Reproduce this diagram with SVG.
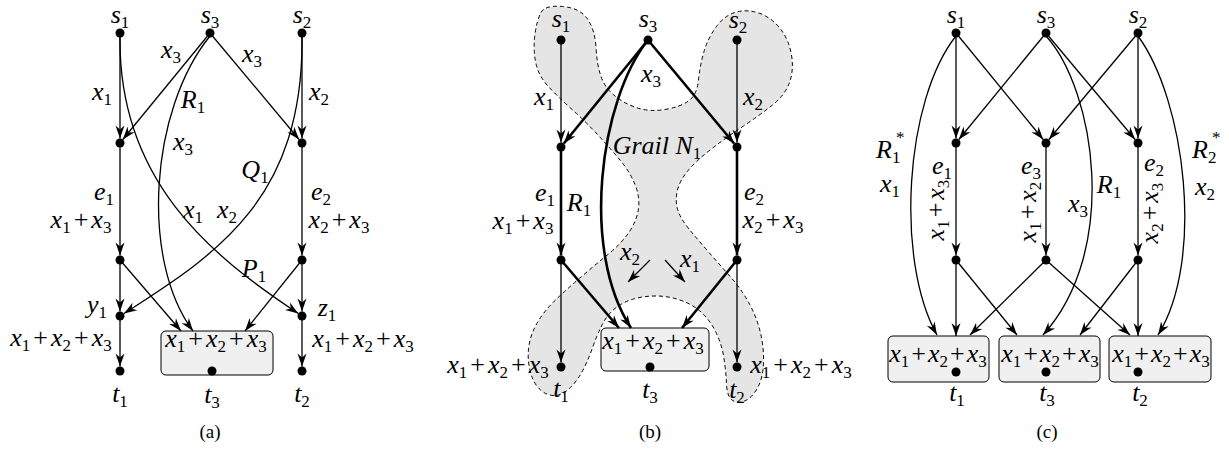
<svg xmlns="http://www.w3.org/2000/svg" width="1229" height="450" viewBox="0 0 1229 450">
<style>
.m{font-style:italic;font-size:26px;fill:#000}
.s{font-style:normal;font-size:17px}
.u{font-style:normal}
.cap{font-size:19px;fill:#000}
.e{fill:none;stroke:#000;stroke-width:1.3;marker-end:url(#a)}
.t{stroke-width:2.6}
.box{fill:#f0f0f0;stroke:#000;stroke-width:1}
.blob{fill:#e5e5e5;stroke:#000;stroke-width:1;stroke-dasharray:4 3}
.d{fill:#000}
</style>
<defs>
<marker id="a" markerUnits="userSpaceOnUse" markerWidth="15" markerHeight="10" viewBox="-14 -5 15 10" refX="0" refY="0" orient="auto"><path d="M0,0 L-13,-4.5 L-9,0 L-13,4.5 Z" fill="#000"/></marker>
</defs>
<rect width="1229" height="450" fill="#fff"/>

<!-- Grail blob (b) -->
<path id="grail" class="blob" d="M541,12.5 Q545,5 562.5,6.5 Q580,8 587.5,19 Q595,30 596,47.5 Q597,65 601,76.5 Q605,88 615,96 Q625,104 637.5,108 Q650,112 665,109.5 Q680,107 688.5,101 Q697,95 698.5,80 Q700,65 704,51.5 Q708,38 716.5,26.5 Q725,15 736.5,12 Q748,9 760,13.5 Q772,18 780.5,29 Q789,40 791.5,55 Q794,70 789.5,82.5 Q785,95 772.5,105 Q760,115 743.5,126 Q727,137 712,148.5 Q697,160 688.5,170 Q680,180 677.5,190 Q675,200 677.5,209 Q680,218 689,229 Q698,240 709,252.5 Q720,265 731,277.5 Q742,290 749.5,304 Q757,318 760.5,333 Q764,348 763.5,363 Q763,378 757.5,388 Q752,398 744.5,401 Q737,404 732,400 Q727,396 726.5,384 Q726,372 724,358.5 Q722,345 716,332.5 Q710,320 701,312 Q692,304 680,300 Q668,296 656,296 Q644,296 633.5,299 Q623,302 615,308.5 Q607,315 602,325 Q597,335 593,346.5 Q589,358 583.5,369 Q578,380 570.5,387.5 Q563,395 555,395.5 Q547,396 540,389.5 Q533,383 530,370.5 Q527,358 529,345.5 Q531,333 538,321.5 Q545,310 556,299.5 Q567,289 581,277 Q595,265 608.5,254 Q622,243 629.5,231.5 Q637,220 638.5,208.5 Q640,197 635,184.5 Q630,172 620,160 Q610,148 597.5,134.5 Q585,121 571,108.5 Q557,96 547.5,85.5 Q538,75 535.5,61.5 Q533,48 535,34 Q537,20 541,12.5 Z"/>

<!-- boxes -->
<g id="a-t3box"><rect class="box" x="161" y="331" width="112" height="44" rx="5"/></g>
<g id="b-t3box"><rect class="box" x="601" y="328" width="108" height="43" rx="5"/></g>
<g id="c-t1box"><rect class="box" x="888" y="336" width="101" height="46" rx="5"/></g>
<g id="c-t3box"><rect class="box" x="999" y="336" width="101" height="46" rx="5"/></g>
<g id="c-t2box"><rect class="box" x="1109" y="336" width="102" height="46" rx="5"/></g>

<g id="connectors">
<!-- (a) -->
<path class="e" d="M120,33 L120,138.5"/>
<path class="e" d="M210,33 L122.8,139.5"/>
<path class="e" d="M210,33 L299.1,139.5"/>
<path class="e" d="M302,33 L302,138.5"/>
<path class="e" d="M120,143 L120,255.5"/>
<path class="e" d="M302,143 L302,255.5"/>
<path class="e" d="M120,260 L120,311.5"/>
<path class="e" d="M302,260 L302,311.5"/>
<path class="e" d="M120,316 L120,366.5"/>
<path class="e" d="M302,316 L302,366.5"/>
<path class="e" d="M120,260 L181,331"/>
<path class="e" d="M302,260 L245,331"/>
<path class="e" d="M120,36 C118,180 210,255 298.3,313.5"/>
<path class="e" d="M302,36 C304,200 215,255 124,313.5"/>
<path class="e" d="M210,36 C150,110 140,260 193,331"/>
<!-- (b) -->
<path class="e" d="M561,40 L561,142.5"/>
<path class="e" d="M737,40 L737,142.5"/>
<path class="e t" d="M648,40 L563.8,143.5"/>
<path class="e t" d="M648,40 L734.1,143.5"/>
<path class="e t" d="M561,147 L561,255.5"/>
<path class="e t" d="M737,147 L737,255.5"/>
<path class="e" d="M561,260 L561,362.5"/>
<path class="e" d="M737,260 L737,362.5"/>
<path class="e t" d="M561,260 L619,328"/>
<path class="e t" d="M737,260 L682,328"/>
<path class="e t" d="M648,40 C600,100 580,250 631,328"/>
<path class="e" d="M650,260 L628,282"/>
<path class="e" d="M665,260 L685,282"/>
<!-- (c) -->
<path class="e" d="M956,33 L956,138.5"/>
<path class="e" d="M956,33 L1043.2,139.5"/>
<path class="e" d="M1046,33 L958.8,139.5"/>
<path class="e" d="M1046,33 L1135.1,139.5"/>
<path class="e" d="M1138,33 L1048.9,139.5"/>
<path class="e" d="M1138,33 L1138,138.5"/>
<path class="e" d="M956,143 L956,255.5"/>
<path class="e" d="M1046,143 L1046,255.5"/>
<path class="e" d="M1138,143 L1138,255.5"/>
<path class="e" d="M956,260 L956,336"/>
<path class="e" d="M956,260 L1017,335"/>
<path class="e" d="M1046,260 L970,335"/>
<path class="e" d="M1046,260 L1130,335"/>
<path class="e" d="M1138,260 L1080,335"/>
<path class="e" d="M1138,260 L1138,336"/>
<path class="e" d="M956,36 C905,100 895,260 937,335"/>
<path class="e" d="M1138,36 C1185,100 1205,260 1158,335"/>
<path class="e" d="M1046,36 C1095,90 1120,250 1043,335"/>
</g>

<g font-family="Liberation Serif, serif">
<!-- (a) nodes -->
<g id="a-s1"><circle class="d" cx="120" cy="33" r="4.5"/><text class="m" x="120" y="23" text-anchor="middle">s<tspan class="s" dy="5">1</tspan></text></g>
<g id="a-s3"><circle class="d" cx="210" cy="33" r="4.5"/><text class="m" x="210" y="23" text-anchor="middle">s<tspan class="s" dy="5">3</tspan></text></g>
<g id="a-s2"><circle class="d" cx="302" cy="33" r="4.5"/><text class="m" x="302" y="23" text-anchor="middle">s<tspan class="s" dy="5">2</tspan></text></g>
<g id="a-e1"><circle class="d" cx="120" cy="143" r="4.5"/><text class="m" x="104" y="200" text-anchor="middle">e<tspan class="s" dy="5">1</tspan></text><text class="m" x="81" y="228" text-anchor="middle">x<tspan class="s" dy="5">1</tspan><tspan class="u" dy="-5" dx="3">+</tspan><tspan dx="3">x</tspan><tspan class="s" dy="5">3</tspan></text></g>
<g id="a-e2"><circle class="d" cx="302" cy="143" r="4.5"/><text class="m" x="321" y="200" text-anchor="middle">e<tspan class="s" dy="5">2</tspan></text><text class="m" x="339" y="228" text-anchor="middle">x<tspan class="s" dy="5">2</tspan><tspan class="u" dy="-5" dx="3">+</tspan><tspan dx="3">x</tspan><tspan class="s" dy="5">3</tspan></text></g>
<g id="a-m1"><circle class="d" cx="120" cy="260" r="4.5"/></g>
<g id="a-m2"><circle class="d" cx="302" cy="260" r="4.5"/></g>
<g id="a-y1"><circle class="d" cx="120" cy="316" r="4.5"/><text class="m" x="97" y="313" text-anchor="middle">y<tspan class="s" dy="5">1</tspan></text></g>
<g id="a-z1"><circle class="d" cx="302" cy="316" r="4.5"/><text class="m" x="327" y="316" text-anchor="middle">z<tspan class="s" dy="5">1</tspan></text></g>
<g id="a-t1"><circle class="d" cx="120" cy="371" r="4.5"/><text class="m" x="120" y="402" text-anchor="middle">t<tspan class="s" dy="5">1</tspan></text></g>
<g id="a-t2"><circle class="d" cx="302" cy="371" r="4.5"/><text class="m" x="302" y="402" text-anchor="middle">t<tspan class="s" dy="5">2</tspan></text></g>
<g id="a-t3"><circle class="d" cx="212" cy="371" r="4.5"/><text class="m" x="212" y="403" text-anchor="middle">t<tspan class="s" dy="5">3</tspan></text></g>

<!-- (b) nodes -->
<g id="b-s1"><circle class="d" cx="561" cy="40" r="4.5"/><text class="m" x="561" y="27" text-anchor="middle">s<tspan class="s" dy="5">1</tspan></text></g>
<g id="b-s3"><circle class="d" cx="648" cy="40" r="4.5"/><text class="m" x="648" y="27" text-anchor="middle">s<tspan class="s" dy="5">3</tspan></text></g>
<g id="b-s2"><circle class="d" cx="737" cy="40" r="4.5"/><text class="m" x="738" y="28" text-anchor="middle">s<tspan class="s" dy="5">2</tspan></text></g>
<g id="b-e1"><circle class="d" cx="561" cy="147" r="4.5"/><text class="m" x="545" y="201" text-anchor="middle">e<tspan class="s" dy="5">1</tspan></text><text class="m" x="523" y="229" text-anchor="middle">x<tspan class="s" dy="5">1</tspan><tspan class="u" dy="-5" dx="3">+</tspan><tspan dx="3">x</tspan><tspan class="s" dy="5">3</tspan></text></g>
<g id="b-e2"><circle class="d" cx="737" cy="147" r="4.5"/><text class="m" x="754" y="200" text-anchor="middle">e<tspan class="s" dy="5">2</tspan></text><text class="m" x="773" y="228" text-anchor="middle">x<tspan class="s" dy="5">2</tspan><tspan class="u" dy="-5" dx="3">+</tspan><tspan dx="3">x</tspan><tspan class="s" dy="5">3</tspan></text></g>
<g id="b-m1"><circle class="d" cx="561" cy="260" r="4.5"/></g>
<g id="b-m2"><circle class="d" cx="737" cy="260" r="4.5"/></g>
<g id="b-t1"><circle class="d" cx="561" cy="367" r="4.5"/><text class="m" x="561" y="397" text-anchor="middle">t<tspan class="s" dy="5">1</tspan></text></g>
<g id="b-t2"><circle class="d" cx="737" cy="367" r="4.5"/><text class="m" x="737" y="398" text-anchor="middle">t<tspan class="s" dy="5">2</tspan></text></g>
<g id="b-t3"><circle class="d" cx="650" cy="367" r="4.5"/><text class="m" x="650" y="398" text-anchor="middle">t<tspan class="s" dy="5">3</tspan></text></g>

<!-- (c) nodes -->
<g id="c-s1"><circle class="d" cx="956" cy="33" r="4.5"/><text class="m" x="956" y="23" text-anchor="middle">s<tspan class="s" dy="5">1</tspan></text></g>
<g id="c-s3"><circle class="d" cx="1046" cy="33" r="4.5"/><text class="m" x="1046" y="23" text-anchor="middle">s<tspan class="s" dy="5">3</tspan></text></g>
<g id="c-s2"><circle class="d" cx="1138" cy="33" r="4.5"/><text class="m" x="1138" y="23" text-anchor="middle">s<tspan class="s" dy="5">2</tspan></text></g>
<g id="c-e1"><circle class="d" cx="956" cy="143" r="4.5"/><text class="m" x="942" y="174" text-anchor="middle">e<tspan class="s" dy="5">1</tspan></text><text class="m" transform="translate(944,210) rotate(-90)" text-anchor="middle">x<tspan class="s" dy="5">1</tspan><tspan class="u" dy="-5" dx="3">+</tspan><tspan dx="3">x</tspan><tspan class="s" dy="5">3</tspan></text></g>
<g id="c-e3"><circle class="d" cx="1046" cy="143" r="4.5"/><text class="m" x="1031" y="174" text-anchor="middle">e<tspan class="s" dy="5">3</tspan></text><text class="m" transform="translate(1036,212) rotate(-90)" text-anchor="middle">x<tspan class="s" dy="5">1</tspan><tspan class="u" dy="-5" dx="3">+</tspan><tspan dx="3">x</tspan><tspan class="s" dy="5">2</tspan></text></g>
<g id="c-e2"><circle class="d" cx="1138" cy="143" r="4.5"/><text class="m" x="1154" y="171" text-anchor="middle">e<tspan class="s" dy="5">2</tspan></text><text class="m" transform="translate(1158,213) rotate(-90)" text-anchor="middle">x<tspan class="s" dy="5">2</tspan><tspan class="u" dy="-5" dx="3">+</tspan><tspan dx="3">x</tspan><tspan class="s" dy="5">3</tspan></text></g>
<g id="c-m1"><circle class="d" cx="956" cy="260" r="4.5"/></g>
<g id="c-m3"><circle class="d" cx="1046" cy="260" r="4.5"/></g>
<g id="c-m2"><circle class="d" cx="1138" cy="260" r="4.5"/></g>
<g id="c-t1"><circle class="d" cx="956" cy="372" r="4.5"/><text class="m" x="957" y="401" text-anchor="middle">t<tspan class="s" dy="5">1</tspan></text></g>
<g id="c-t3"><circle class="d" cx="1046" cy="372" r="4.5"/><text class="m" x="1047" y="401" text-anchor="middle">t<tspan class="s" dy="5">3</tspan></text></g>
<g id="c-t2"><circle class="d" cx="1138" cy="372" r="4.5"/><text class="m" x="1140" y="401" text-anchor="middle">t<tspan class="s" dy="5">2</tspan></text></g>

<g id="labels">
<!-- (a) -->
<text class="m" x="171" y="58" text-anchor="middle">x<tspan class="s" dy="5">3</tspan></text>
<text class="m" x="252" y="62" text-anchor="middle">x<tspan class="s" dy="5">3</tspan></text>
<text class="m" x="102" y="100" text-anchor="middle">x<tspan class="s" dy="5">1</tspan></text>
<text class="m" x="319" y="100" text-anchor="middle">x<tspan class="s" dy="5">2</tspan></text>
<text class="m" x="193" y="108" text-anchor="middle">R<tspan class="s" dy="5">1</tspan></text>
<text class="m" x="183" y="150" text-anchor="middle">x<tspan class="s" dy="5">3</tspan></text>
<text class="m" x="255" y="178" text-anchor="middle">Q<tspan class="s" dy="5">1</tspan></text>
<text class="m" x="193" y="218" text-anchor="middle">x<tspan class="s" dy="5">1</tspan></text>
<text class="m" x="227" y="218" text-anchor="middle">x<tspan class="s" dy="5">2</tspan></text>
<text class="m" x="254" y="277" text-anchor="middle">P<tspan class="s" dy="5">1</tspan></text>
<text class="m" x="61" y="346" text-anchor="middle">x<tspan class="s" dy="5">1</tspan><tspan class="u" dy="-5" dx="3">+</tspan><tspan dx="3">x</tspan><tspan class="s" dy="5">2</tspan><tspan class="u" dy="-5" dx="3">+</tspan><tspan dx="3">x</tspan><tspan class="s" dy="5">3</tspan></text>
<text class="m" x="363" y="347" text-anchor="middle">x<tspan class="s" dy="5">1</tspan><tspan class="u" dy="-5" dx="3">+</tspan><tspan dx="3">x</tspan><tspan class="s" dy="5">2</tspan><tspan class="u" dy="-5" dx="3">+</tspan><tspan dx="3">x</tspan><tspan class="s" dy="5">3</tspan></text>
<text class="m" x="216" y="347" text-anchor="middle">x<tspan class="s" dy="5">1</tspan><tspan class="u" dy="-5" dx="3">+</tspan><tspan dx="3">x</tspan><tspan class="s" dy="5">2</tspan><tspan class="u" dy="-5" dx="3">+</tspan><tspan dx="3">x</tspan><tspan class="s" dy="5">3</tspan></text>
<!-- (b) -->
<text class="m" x="651" y="82" text-anchor="middle">x<tspan class="s" dy="5">3</tspan></text>
<text class="m" x="544" y="105" text-anchor="middle">x<tspan class="s" dy="5">1</tspan></text>
<text class="m" x="753" y="105" text-anchor="middle">x<tspan class="s" dy="5">2</tspan></text>
<text class="m" x="657" y="154" text-anchor="middle">Grail N<tspan class="s" dy="5">1</tspan></text>
<text class="m" x="579" y="211" text-anchor="middle">R<tspan class="s" dy="5">1</tspan></text>
<text class="m" x="630" y="260" text-anchor="middle">x<tspan class="s" dy="5">2</tspan></text>
<text class="m" x="690" y="267" text-anchor="middle">x<tspan class="s" dy="5">1</tspan></text>
<text class="m" x="498" y="373" text-anchor="middle">x<tspan class="s" dy="5">1</tspan><tspan class="u" dy="-5" dx="3">+</tspan><tspan dx="3">x</tspan><tspan class="s" dy="5">2</tspan><tspan class="u" dy="-5" dx="3">+</tspan><tspan dx="3">x</tspan><tspan class="s" dy="5">3</tspan></text>
<text class="m" x="801" y="373" text-anchor="middle">x<tspan class="s" dy="5">1</tspan><tspan class="u" dy="-5" dx="3">+</tspan><tspan dx="3">x</tspan><tspan class="s" dy="5">2</tspan><tspan class="u" dy="-5" dx="3">+</tspan><tspan dx="3">x</tspan><tspan class="s" dy="5">3</tspan></text>
<text class="m" x="653" y="349" text-anchor="middle">x<tspan class="s" dy="5">1</tspan><tspan class="u" dy="-5" dx="3">+</tspan><tspan dx="3">x</tspan><tspan class="s" dy="5">2</tspan><tspan class="u" dy="-5" dx="3">+</tspan><tspan dx="3">x</tspan><tspan class="s" dy="5">3</tspan></text>
<!-- (c) -->
<text class="m" x="876" y="158">R<tspan class="s" dy="5">1</tspan></text>
<text class="m s" x="896" y="143">*</text>
<text class="m" x="880" y="192">x<tspan class="s" dy="5">1</tspan></text>
<text class="m" x="1109" y="193" text-anchor="middle">R<tspan class="s" dy="5">1</tspan></text>
<text class="m" x="1078" y="212" text-anchor="middle">x<tspan class="s" dy="5">3</tspan></text>
<text class="m" x="1192" y="158">R<tspan class="s" dy="5">2</tspan></text>
<text class="m s" x="1212" y="143">*</text>
<text class="m" x="1205" y="195" text-anchor="middle">x<tspan class="s" dy="5">2</tspan></text>
<text class="m" x="938" y="362" text-anchor="middle">x<tspan class="s" dy="5">1</tspan><tspan class="u" dy="-5" dx="2">+</tspan><tspan dx="2">x</tspan><tspan class="s" dy="5">2</tspan><tspan class="u" dy="-5" dx="2">+</tspan><tspan dx="2">x</tspan><tspan class="s" dy="5">3</tspan></text>
<text class="m" x="1050" y="362" text-anchor="middle">x<tspan class="s" dy="5">1</tspan><tspan class="u" dy="-5" dx="2">+</tspan><tspan dx="2">x</tspan><tspan class="s" dy="5">2</tspan><tspan class="u" dy="-5" dx="2">+</tspan><tspan dx="2">x</tspan><tspan class="s" dy="5">3</tspan></text>
<text class="m" x="1161" y="362" text-anchor="middle">x<tspan class="s" dy="5">1</tspan><tspan class="u" dy="-5" dx="2">+</tspan><tspan dx="2">x</tspan><tspan class="s" dy="5">2</tspan><tspan class="u" dy="-5" dx="2">+</tspan><tspan dx="2">x</tspan><tspan class="s" dy="5">3</tspan></text>
</g>
<g id="captions">
<text class="cap" x="210" y="438" text-anchor="middle">(a)</text>
<text class="cap" x="650" y="438" text-anchor="middle">(b)</text>
<text class="cap" x="1047" y="438" text-anchor="middle">(c)</text>
</g>
</g>
</svg>
